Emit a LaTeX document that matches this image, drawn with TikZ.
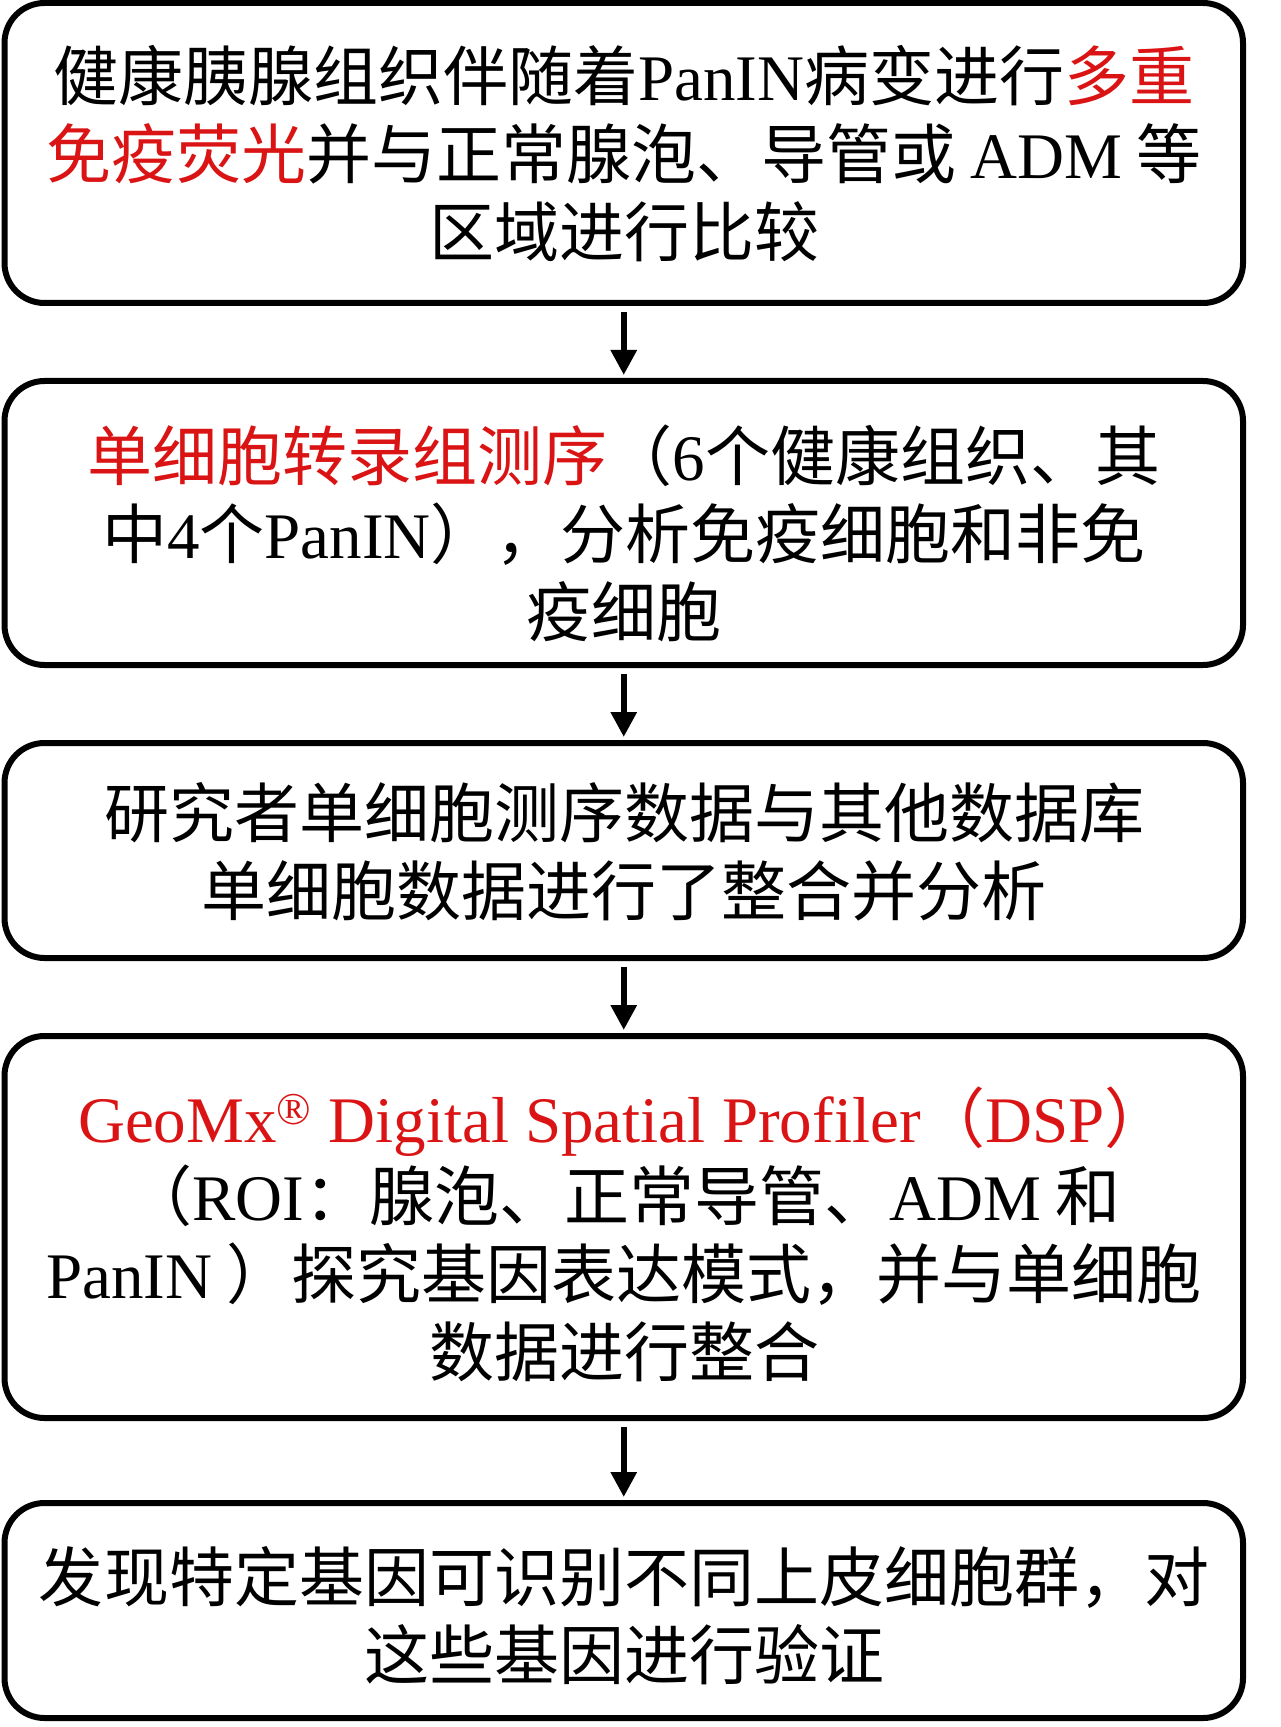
\documentclass[tikz,border=0pt]{standalone}
\usepackage{fontspec}
\setmainfont{Noto Sans CJK SC}
\newfontfamily\tm{Liberation Serif}
\usetikzlibrary{arrows.meta}
\definecolor{myred}{RGB}{218,20,20}
\begin{document}
\begin{tikzpicture}[x=0.5pt,y=-0.5pt,
  box/.style={draw=black,line width=3pt,rounded corners=20pt,minimum width=619.25pt,inner sep=0pt,outer sep=0pt},
  txt/.style={align=center,inner sep=0pt,font=\fontsize{32.5pt}{39pt}\selectfont},
  arr/.style={line width=3pt,-{Triangle[width=12.5pt,length=12.5pt]},shorten <=4.5pt,shorten >=3pt}]
\useasboundingbox (0,0) rectangle (1280,1727);
\node[box,minimum height=150pt] (b1) at (623.75,153) {};
\node[box,minimum height=142pt] (b2) at (623.75,523) {};
\node[box,minimum height=107.5pt] (b3) at (623.75,850.5) {};
\node[box,minimum height=191pt] (b4) at (623.75,1227) {};
\node[box,minimum height=107.5pt] (b5) at (623.75,1610.5) {};
\node[txt] (t1) at (624,154) {健康胰腺组织伴随着{\tm PanIN}病变进行{\color{myred}多重}\\
{\color{myred}免疫荧光}并与正常腺泡、导管或 {\tm ADM} 等\\
区域进行比较};
\node[txt] (t2) at (624,533) {{\color{myred}单细胞转录组测序}（{\tm 6}个健康组织、其\\
中{\tm 4}个{\tm PanIN}），分析免疫细胞和非免\\
疫细胞};
\node[txt] (t3) at (624,852) {研究者单细胞测序数据与其他数据库\\
单细胞数据进行了整合并分析};
\node[txt] (t4) at (624,1234) {{\color{myred}{\tm GeoMx\textsuperscript{®} Digital Spatial Profiler}（{\tm DSP}）}\\
（{\tm ROI}：腺泡、正常导管、{\tm ADM} 和\\
{\tm PanIN} ）探究基因表达模式，并与单细胞\\
数据进行整合};
\node[txt] (t5) at (624,1616) {发现特定基因可识别不同上皮细胞群，对\\
这些基因进行验证};
\draw[arr] (b1) -- (b2);
\draw[arr] (b2) -- (b3);
\draw[arr] (b3) -- (b4);
\draw[arr] (b4) -- (b5);
\end{tikzpicture}
\end{document}
